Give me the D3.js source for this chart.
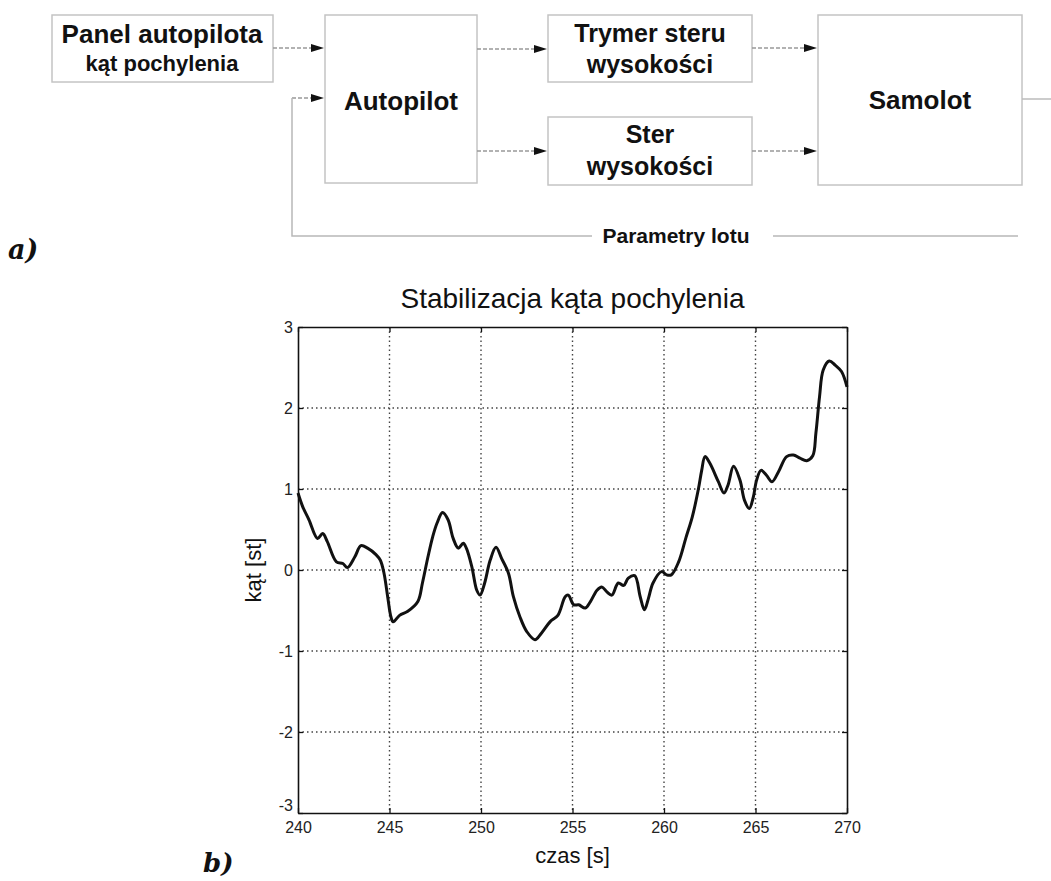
<!DOCTYPE html>
<html>
<head>
<meta charset="utf-8">
<script src="https://cdn.jsdelivr.net/npm/d3@7"></script>
<style>
  body { margin: 0; background: #fff; }
  svg text { font-family: "Liberation Sans", Arial, sans-serif; }
</style>
</head>
<body>
<div id="chart"></div>
<script>
// Chart data
var czas = [240.0, 240.26, 240.6, 241.07, 241.35, 241.6, 242.1, 242.45, 242.7, 243.1, 243.44, 243.8,
  244.26, 244.5, 244.7, 244.9, 245.08, 245.2, 245.55, 246.0, 246.55, 246.8, 247.1, 247.36, 247.6, 247.9,
  248.2, 248.48, 248.76, 249.03, 249.2, 249.5, 249.77, 249.95, 250.2, 250.5, 250.82, 251.13, 251.5, 251.77,
  252.13, 252.5, 252.95, 253.3, 253.77, 254.2, 254.6, 254.77, 255.07, 255.34, 255.7, 255.98, 256.34, 256.6,
  256.88, 257.15, 257.5, 257.8, 258.05, 258.4, 258.7, 258.93, 259.15, 259.4, 259.87, 260.14, 260.4, 260.8,
  261.2, 261.55, 261.88, 262.06, 262.24, 262.5, 262.97, 263.28, 263.5, 263.8, 264.15, 264.4, 264.66, 264.88,
  265.06, 265.3, 265.6, 265.9, 266.25, 266.7, 267.07, 267.43, 267.8, 268.13, 268.3, 268.5, 268.7, 269.03,
  269.35, 269.7, 270.0];
var kat = [0.95, 0.78, 0.62, 0.39, 0.45, 0.35, 0.10, 0.08, 0.03, 0.16, 0.30, 0.27,
  0.19, 0.12, -0.04, -0.33, -0.58, -0.64, -0.56, -0.51, -0.39, -0.16, 0.16, 0.41, 0.58, 0.71,
  0.62, 0.39, 0.27, 0.33, 0.27, 0.04, -0.25, -0.31, -0.16, 0.12, 0.28, 0.14, -0.04, -0.33,
  -0.58, -0.76, -0.86, -0.78, -0.64, -0.56, -0.33, -0.31, -0.43, -0.43, -0.47, -0.39, -0.25, -0.21,
  -0.27, -0.31, -0.16, -0.19, -0.10, -0.07, -0.33, -0.49, -0.35, -0.16, -0.02, -0.06, -0.06, 0.10,
  0.40, 0.66, 1.00, 1.23, 1.40, 1.32, 1.09, 0.95, 1.05, 1.28, 1.11, 0.86, 0.76, 0.90,
  1.11, 1.23, 1.17, 1.09, 1.21, 1.40, 1.42, 1.38, 1.35, 1.41, 1.69, 2.14, 2.47, 2.58,
  2.53, 2.45, 2.26];
var xTicks = [240, 245, 250, 255, 260, 265, 270];
var yTicks = [-3, -2, -1, 0, 1, 2, 3];

var svgWidth = 1051;
var svgHeight = 881;

var svg = d3.select("#chart")
  .append("svg")
  .attr("width", svgWidth)
  .attr("height", svgHeight);

// ---------- a) block diagram ----------
var diag = svg.append("g");

function box(x, y, w, h) {
  diag.append("rect")
    .attr("x", x).attr("y", y)
    .attr("width", w).attr("height", h)
    .attr("fill", "#fff")
    .attr("stroke", "#c4c4c4")
    .attr("stroke-width", 1.5);
}

function label(x, y, txt, size) {
  diag.append("text")
    .attr("x", x).attr("y", y)
    .attr("text-anchor", "middle")
    .attr("font-size", size)
    .attr("font-weight", "bold")
    .attr("fill", "#111")
    .text(txt);
}

function arrow(x1, x2, y) {
  diag.append("line")
    .attr("x1", x1).attr("x2", x2 - 12)
    .attr("y1", y).attr("y2", y)
    .attr("stroke", "#999")
    .attr("stroke-width", 1.5)
    .attr("stroke-dasharray", "4,2");
  diag.append("path")
    .attr("d", `M${x2 - 14},${y - 4} L${x2 - 1},${y} L${x2 - 14},${y + 4} Z`)
    .attr("fill", "#111");
}

box(52, 15, 221, 67);
box(325, 15, 152, 168);
box(548, 15, 204, 67);
box(548, 117, 204, 68);
box(818, 15, 204, 170);

label(162, 43, "Panel autopilota", 26);
label(162, 71, "kąt pochylenia", 22);
label(401, 110, "Autopilot", 26);
label(650, 42, "Trymer steru", 25);
label(650, 73, "wysokości", 25);
label(650, 143, "Ster", 25);
label(650, 175, "wysokości", 25);
label(920, 109, "Samolot", 26);

arrow(273, 325, 48);
arrow(292, 325, 98);
arrow(477, 548, 49);
arrow(477, 548, 151);
arrow(752, 818, 48);
arrow(752, 818, 151);

// feedback loop
diag.append("path")
  .attr("d", "M292,98 L292,236 L592,236 M773,236 L1018,236")
  .attr("fill", "none")
  .attr("stroke", "#b8b8b8")
  .attr("stroke-width", 1.5);
diag.append("line")
  .attr("x1", 1022).attr("x2", 1051)
  .attr("y1", 99).attr("y2", 99)
  .attr("stroke", "#bbb")
  .attr("stroke-width", 1.5);
label(676, 243, "Parametry lotu", 21);

svg.append("text")
  .attr("x", 8).attr("y", 259)
  .style("font-family", "'DejaVu Serif', serif")
  .attr("font-size", 27)
  .attr("font-weight", "bold")
  .attr("font-style", "italic")
  .attr("fill", "#111")
  .text("a)");

svg.append("text")
  .attr("x", 203).attr("y", 872)
  .style("font-family", "'DejaVu Serif', serif")
  .attr("font-size", 26)
  .attr("font-weight", "bold")
  .attr("font-style", "italic")
  .attr("fill", "#111")
  .text("b)");

// ---------- b) time plot ----------
var margin = { top: 327, left: 298 };
var chartWidth = 549;
var chartHeight = 486;

var chartGroup = svg.append("g")
  .attr("transform", `translate(${margin.left}, ${margin.top})`);

var xScale = d3.scaleLinear().domain([240, 270]).range([0, chartWidth]);
var yScale = d3.scaleLinear().domain([-3, 3]).range([chartHeight, 0]);

// grid
chartGroup.selectAll(".gx")
  .data(xTicks.slice(1, -1))
  .enter()
  .append("line")
  .attr("x1", d => xScale(d)).attr("x2", d => xScale(d))
  .attr("y1", 0).attr("y2", chartHeight)
  .attr("stroke", "#444")
  .attr("stroke-width", 1.4)
  .attr("stroke-dasharray", "1.5,3");

chartGroup.selectAll(".gy")
  .data(yTicks.slice(1, -1))
  .enter()
  .append("line")
  .attr("x1", 0).attr("x2", chartWidth)
  .attr("y1", d => yScale(d)).attr("y2", d => yScale(d))
  .attr("stroke", "#444")
  .attr("stroke-width", 1.4)
  .attr("stroke-dasharray", "1.5,3");

var fmt = d => (d < 0 ? "-" + Math.abs(d) : "" + d);

var bottomAxis = d3.axisBottom(xScale).tickValues(xTicks).tickSizeInner(-5).tickSizeOuter(0).tickPadding(9).tickFormat(fmt);
var leftAxis = d3.axisLeft(yScale).tickValues(yTicks).tickSizeInner(-5).tickSizeOuter(0).tickPadding(5).tickFormat(fmt);
var topAxis = d3.axisTop(xScale).tickValues(xTicks).tickSizeInner(-5).tickSizeOuter(0).tickFormat("");
var rightAxis = d3.axisRight(yScale).tickValues(yTicks).tickSizeInner(-5).tickSizeOuter(0).tickFormat("");

var gb = chartGroup.append("g")
  .attr("transform", `translate(0, ${chartHeight})`)
  .call(bottomAxis);
gb.selectAll("text").attr("font-size", 16).attr("fill", "#222");

var gl = chartGroup.append("g").call(leftAxis);
gl.selectAll("text").attr("font-size", 16).attr("fill", "#222");
// MATLAB puts the lowest label slightly above the corner
gl.selectAll(".tick").filter(d => d === -3).select("text").attr("dy", "-0.15em");

chartGroup.append("g").call(topAxis);
chartGroup.append("g").attr("transform", `translate(${chartWidth}, 0)`).call(rightAxis);

chartGroup.selectAll(".domain").attr("stroke", "#111").attr("stroke-width", 1.6);
chartGroup.selectAll(".tick line").attr("stroke", "#111").attr("stroke-width", 1.3);

// the signal
var points = czas.map((t, i) => ({ t: t, v: kat[i] }));
var line = d3.line()
  .x(d => xScale(d.t))
  .y(d => yScale(d.v))
  .curve(d3.curveCatmullRom);

chartGroup.append("path")
  .datum(points)
  .attr("d", line)
  .attr("fill", "none")
  .attr("stroke", "#111")
  .attr("stroke-width", 3)
  .attr("stroke-linejoin", "round");

// titles
chartGroup.append("text")
  .attr("x", chartWidth / 2)
  .attr("y", -19)
  .attr("text-anchor", "middle")
  .attr("font-size", 28)
  .attr("fill", "#111")
  .text("Stabilizacja kąta pochylenia");

chartGroup.append("text")
  .attr("transform", "rotate(-90)")
  .attr("x", -(chartHeight / 2))
  .attr("y", -37)
  .attr("text-anchor", "middle")
  .attr("font-size", 22)
  .attr("fill", "#111")
  .text("kąt [st]");

chartGroup.append("text")
  .attr("x", chartWidth / 2)
  .attr("y", chartHeight + 50)
  .attr("text-anchor", "middle")
  .attr("font-size", 22)
  .attr("fill", "#111")
  .text("czas [s]");
</script>
</body>
</html>
